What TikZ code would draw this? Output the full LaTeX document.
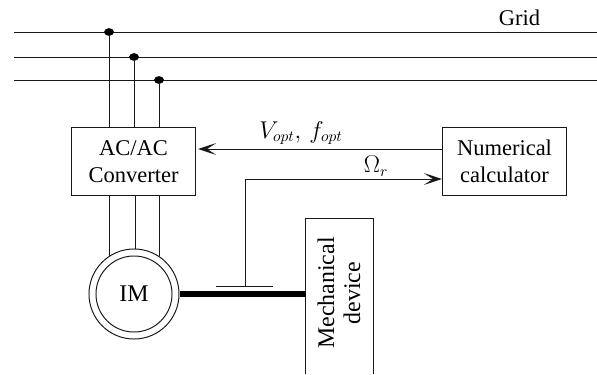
\documentclass[tikz,border=0pt]{standalone}
\usepackage{fontspec}
\setmainfont{Liberation Serif}
\usetikzlibrary{calc,positioning,arrows.meta,shapes.geometric}
\tikzset{
  wire/.style={line width=0.7pt,draw=black!90},
  blockbox/.style={draw=black!90,line width=0.7pt,align=center,inner sep=0pt,minimum width=3.1cm,minimum height=1.675cm,font=\fontsize{16}{19}\selectfont},
  tap/.style={ellipse,fill=black,inner sep=0pt,minimum width=7pt,minimum height=5.5pt},
  sigarrow/.style={wire,-{Stealth[length=13pt,width=8.5pt,inset=6.5pt]}}
}
\begin{document}
\begin{tikzpicture}[x=0.025cm,y=-0.025cm]
\useasboundingbox (0,0) rectangle (597,374);
% grid
\coordinate (g1l) at (14,32);
\coordinate (g1r) at (597,32);
\coordinate (g2l) at (14,57);
\coordinate (g2r) at (597,57);
\coordinate (g3l) at (14,80);
\coordinate (g3r) at (597,80);
\draw[wire] (g1l)--(g1r);
\draw[wire] (g2l)--(g2r);
\draw[wire] (g3l)--(g3r);
\node[font=\fontsize{16}{19}\selectfont] (grid) at (519.5,18) {Grid};
\node[tap] (t1) at (109,32) {};
\node[tap] (t2) at (134,57) {};
\node[tap] (t3) at (159,80) {};
% blocks
\node[blockbox] (conv) at (133.5,161.5) {AC/AC\\Converter};
\node[blockbox] (calc) at (504.5,161.5) {Numerical\\calculator};
\foreach \t in {t1,t2,t3}
  \draw[wire] (\t)--(\t|-conv.north);
% motor
\node[circle,draw=black!90,line width=0.7pt,minimum size=2.25cm,inner sep=0pt] (im) at (134,294) {};
\node[circle,draw=black!90,line width=0.7pt,minimum size=1.9cm,inner sep=0pt,font=\fontsize{17}{20}\selectfont] (imin) at (134,294) {IM};
\coordinate (w1) at (109,256);
\coordinate (w2) at (135,249);
\coordinate (w3) at (159,256);
\foreach \w in {w1,w2,w3}
  \draw[wire] (\w)--(\w|-conv.south);
% mechanical device
\node[rotate=90,align=center,font=\fontsize{17}{18.5}\selectfont] (mech) at (339,293) {Mechanical\\device};
\coordinate (mnw) at (305.5,218);
\coordinate (mne) at (373.5,218);
\draw[wire] (305.5,374)--(mnw)--(mne)--(373.5,374);
\coordinate (shaft) at (305.5,294);
\draw[line width=4.6pt] (im.east)--(shaft);
% speed pick-up
\coordinate (pl) at (216,286);
\coordinate (pr) at (273,286);
\coordinate (pm) at (245,286);
\coordinate (bend) at (245,179);
\draw[wire] (pl)--(pr);
\draw[sigarrow] (pm)--(bend)--(bend-|calc.west);
\node[font=\fontsize{16}{18}\selectfont] (omega) at (376,166) {$\Omega_r$};
% reference
\coordinate (vs) at (442,149);
\coordinate (ve) at (198,149);
\draw[sigarrow] (vs)--(ve);
\node[font=\fontsize{16}{18}\selectfont] (vopt) at (301,133) {$V_{opt},\,f_{opt}$};
\end{tikzpicture}
\end{document}
